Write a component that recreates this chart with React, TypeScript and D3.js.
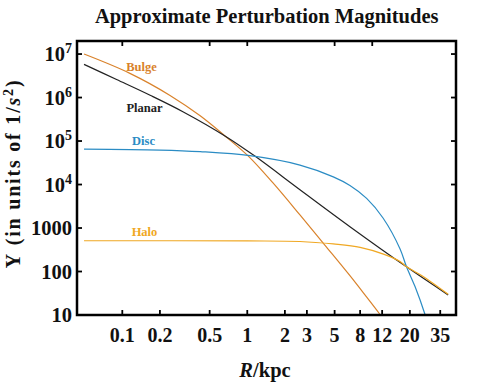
import React from "react";
import * as d3 from "d3";

// ---- data ----
const bulgeR = [0.0494, 0.115, 0.241, 0.42, 0.663, 1.02, 1.6, 2.64, 4.19, 6.63, 9, 11.5, 12.5];
const bulgeV = [1.0e7, 3.6e6, 1.12e6, 3.8e5, 1.31e5, 4.5e4, 1.1e4, 2.0e3, 400, 80, 26, 10.4, 7.5];

const planarR = [0.0494, 0.09, 0.167, 0.308, 0.663, 1.15, 2.64, 6.63, 18.8, 40.5];
const planarV = [5.8e6, 2.6e6, 1.13e6, 4.67e5, 1.31e5, 4.5e4, 7.6e3, 1075, 128, 29];

const discR = [0.0494, 0.2, 0.42, 1.05, 2.64, 4.88, 6.63, 9.02, 12.2, 16.7, 18.8, 22, 26.4, 27.5];
const discV = [6.5e4, 6.2e4, 5.7e4, 4.6e4, 2.8e4, 1.5e4, 9.5e3, 4.8e3, 1.7e3, 330, 128, 45, 10.4, 7];

const haloR = [0.0494, 1, 2.64, 4.88, 8, 12.3, 16.7, 18.8, 25, 30, 40.5];
const haloV = [510, 505, 490, 430, 360, 251, 170, 128, 80, 56, 30];

const xTicksBottom = [0.1, 0.2, 0.5, 1, 2, 3, 5, 8, 12, 20, 35];
const xTicksTop = [0.1, 0.5, 1, 5, 10];
const yTicks = [10, 100, 1000, 1e4, 1e5, 1e6, 1e7];
const yTickLabels = ["10", "100", "1000", "10|4", "10|5", "10|6", "10|7"];

const seriesNames = ["Bulge", "Planar", "Disc", "Halo"];
const seriesColors = ["#D9822B", "#222222", "#2B8CC4", "#F0A823"];

const W = 491;
const H = 382;
const L = 77, R = 456, T = 41, B = 315;
const FONT = "'Liberation Serif', 'Times New Roman', serif";

export default function App() {
  const x = d3.scaleLog().domain([0.0434, 46.8]).range([L, R]);
  const y = d3.scaleLog().domain([10, Math.pow(10, 7.3)]).range([B, T]);

  const line = d3
    .line<[number, number]>()
    .x((d) => x(d[0]))
    .y((d) => y(d[1]))
    .curve(d3.curveCatmullRom.alpha(0.5));

  const series = [
    { r: bulgeR, v: bulgeV },
    { r: planarR, v: planarV },
    { r: discR, v: discV },
    { r: haloR, v: haloV },
  ];

  const labelPos = [
    { x: 141.5, y: 71 },
    { x: 144.5, y: 112 },
    { x: 143.5, y: 145.3 },
    { x: 144.5, y: 235.7 },
  ];

  const tickLen = 5;

  return (
    <div style={{ position: "fixed", left: 0, top: 0 }}>
      <svg width={W} height={H} style={{ display: "block", background: "#fff" }}>
        <defs>
          <clipPath id="plotclip">
            <rect x={L} y={T} width={R - L} height={B - T} />
          </clipPath>
        </defs>

        {/* title */}
        <text
          x={266.7}
          y={22.7}
          textAnchor="middle"
          fontFamily={FONT}
          fontWeight="bold"
          fontSize={20.5}
          fill="#111"
        >
          Approximate Perturbation Magnitudes
        </text>

        {/* curves */}
        <g clipPath="url(#plotclip)">
          {series.map((s, i) => (
            <path
              key={i}
              d={line(s.r.map((r, j) => [r, s.v[j]] as [number, number])) || ""}
              fill="none"
              stroke={seriesColors[i]}
              strokeWidth={1.2}
            />
          ))}
        </g>

        {/* series labels */}
        {seriesNames.map((n, i) => (
          <text
            key={n}
            x={labelPos[i].x}
            y={labelPos[i].y}
            textAnchor="middle"
            fontFamily={FONT}
            fontWeight="bold"
            fontSize={12.5}
            fill={seriesColors[i]}
          >
            {n}
          </text>
        ))}

        {/* ticks */}
        <g stroke="#000" strokeWidth={1.8}>
          {xTicksBottom.map((t) => (
            <line key={"b" + t} x1={x(t)} x2={x(t)} y1={B} y2={B - tickLen} />
          ))}
          {xTicksTop.map((t) => (
            <line key={"t" + t} x1={x(t)} x2={x(t)} y1={T} y2={T + tickLen} />
          ))}
          {yTicks.map((t) => (
            <line key={"l" + t} x1={L} x2={L + tickLen} y1={y(t)} y2={y(t)} />
          ))}
          {yTicks.map((t) => (
            <line key={"r" + t} x1={R} x2={R - tickLen} y1={y(t)} y2={y(t)} />
          ))}
        </g>

        {/* frame */}
        <rect
          x={L}
          y={T}
          width={R - L}
          height={B - T}
          fill="none"
          stroke="#000"
          strokeWidth={2.5}
        />

        {/* x tick labels */}
        {xTicksBottom.map((t) => (
          <text
            key={"xl" + t}
            x={x(t)}
            y={341.7}
            textAnchor="middle"
            fontFamily={FONT}
            fontWeight="bold"
            fontSize={20}
            fill="#111"
          >
            {String(t)}
          </text>
        ))}

        {/* y tick labels */}
        {yTicks.map((t, i) => {
          const lab = yTickLabels[i];
          const parts = lab.split("|");
          return (
            <text
              key={"yl" + t}
              x={72}
              y={y(t)}
              dy="0.35em"
              textAnchor="end"
              fontFamily={FONT}
              fontWeight="bold"
              fontSize={20.5}
              fill="#111"
            >
              {parts[0]}
              {parts.length > 1 ? (
                <tspan dy={-8} fontSize={14}>
                  {parts[1]}
                </tspan>
              ) : null}
            </text>
          );
        })}

        {/* x axis label */}
        <text
          x={265}
          y={376.7}
          textAnchor="middle"
          fontFamily={FONT}
          fontWeight="bold"
          fontSize={20.5}
          fill="#111"
        >
          <tspan fontStyle="italic">R</tspan>/kpc
        </text>

        {/* y axis label */}
        <text
          transform={`translate(20,173.5) rotate(-90)`}
          textAnchor="middle"
          fontFamily={FONT}
          fontWeight="bold"
          fontSize={20}
          letterSpacing={1.8}
          fill="#111"
        >
          Υ (in units of 1/<tspan fontStyle="italic">s</tspan>
          <tspan dy={-7} fontSize={14}>2</tspan>
          <tspan dy={7}>)</tspan>
        </text>
      </svg>
    </div>
  );
}
